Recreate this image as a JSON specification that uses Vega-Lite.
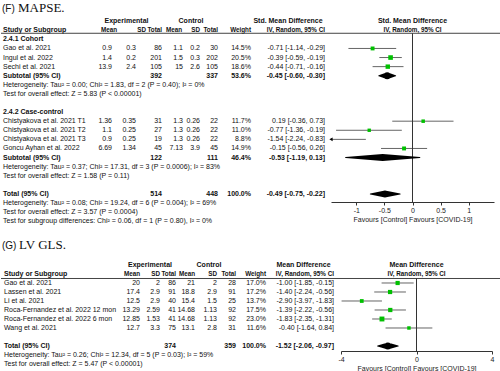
{
"$schema":"https://vega.github.io/schema/vega-lite/v6.json",
"padding":0,
"spacing":0,
"align":"none",
"config":{
 "view":{"stroke":null},
 "text":{"font":"Liberation Sans","fontSize":7,"baseline":"middle","color":"#111"},
 "rule":{"color":"#444","strokeWidth":1},
 "axis":{"grid":false,"tickSize":3,"labelPadding":1,"titlePadding":2,"labelFontSize":7,"titleFontSize":7,"titleFontWeight":"normal","labelFont":"Liberation Sans","titleFont":"Liberation Sans","domainColor":"#333","tickColor":"#333","labelColor":"#222","titleColor":"#222","labelFlush":false,"labelOverlap":false}
},
"datasets":{
"F":[
 {"line":-1,"style":"title","tag":"(F)","study":"MAPSE."},
 {"line":0,"style":"hdr0","esd":"Experimental","csd":"Control","ci":"Std. Mean Difference","fp":"Std. Mean Difference"},
 {"line":1,"style":"hdr","study":"Study or Subgroup","em":"Mean","esd":"SD","en":"Total","cm":"Mean","csd":"SD","cn":"Total","w":"Weight","ci":"IV, Random, 95% CI","fp":"IV, Random, 95% CI"},
 {"line":2,"style":"grp","study":"2.4.1 Cohort"},
 {"line":3,"style":"study","study":"Gao et al. 2021","em":0.9,"esd":0.3,"en":86,"cm":1.1,"csd":0.2,"cn":30,"w":"14.5%","wt":14.5,"ci":"-0.71 [-1.14, -0.29]","est":-0.71,"lo":-1.14,"hi":-0.29},
 {"line":4,"style":"study","study":"Ingul et al. 2022","em":1.4,"esd":0.2,"en":201,"cm":1.5,"csd":0.3,"cn":202,"w":"20.5%","wt":20.5,"ci":"-0.39 [-0.59, -0.19]","est":-0.39,"lo":-0.59,"hi":-0.19},
 {"line":5,"style":"study","study":"Sechi et al. 2021","em":13.9,"esd":2.4,"en":105,"cm":15,"csd":2.6,"cn":105,"w":"18.6%","wt":18.6,"ci":"-0.44 [-0.71, -0.16]","est":-0.44,"lo":-0.71,"hi":-0.16},
 {"line":6,"style":"sub","study":"Subtotal (95% CI)","en":392,"cn":337,"w":"53.6%","ci":"-0.45 [-0.60, -0.30]","est":-0.45,"lo":-0.60,"hi":-0.30},
 {"line":7,"style":"note","study":"Heterogeneity: Tau² = 0.00; Chi² = 1.83, df = 2 (P = 0.40); I² = 0%"},
 {"line":8,"style":"note","study":"Test for overall effect: Z = 5.83 (P < 0.00001)"},
 {"line":10,"style":"grp","study":"2.4.2 Case-control"},
 {"line":11,"style":"study","study":"Chistyakova et al. 2021 T1","em":1.36,"esd":0.35,"en":31,"cm":1.3,"csd":0.26,"cn":22,"w":"11.7%","wt":11.7,"ci":"0.19 [-0.36, 0.73]","est":0.19,"lo":-0.36,"hi":0.73},
 {"line":12,"style":"study","study":"Chistyakova et al. 2021 T2","em":1.1,"esd":0.25,"en":27,"cm":1.3,"csd":0.26,"cn":22,"w":"11.0%","wt":11.0,"ci":"-0.77 [-1.36, -0.19]","est":-0.77,"lo":-1.36,"hi":-0.19},
 {"line":13,"style":"study","study":"Chistyakova et al. 2021 T3","em":0.9,"esd":0.25,"en":19,"cm":1.3,"csd":0.26,"cn":22,"w":"8.8%","wt":8.8,"ci":"-1.54 [-2.24, -0.83]","est":-1.54,"lo":-2.24,"hi":-0.83},
 {"line":14,"style":"study","study":"Goncu Ayhan et al. 2022","em":6.69,"esd":1.34,"en":45,"cm":7.13,"csd":3.9,"cn":45,"w":"14.9%","wt":14.9,"ci":"-0.15 [-0.56, 0.26]","est":-0.15,"lo":-0.56,"hi":0.26},
 {"line":15,"style":"sub","study":"Subtotal (95% CI)","en":122,"cn":111,"w":"46.4%","ci":"-0.53 [-1.19, 0.13]","est":-0.53,"lo":-1.19,"hi":0.13},
 {"line":16,"style":"note","study":"Heterogeneity: Tau² = 0.37; Chi² = 17.31, df = 3 (P = 0.0006); I² = 83%"},
 {"line":17,"style":"note","study":"Test for overall effect: Z = 1.58 (P = 0.11)"},
 {"line":19,"style":"sub","study":"Total (95% CI)","en":514,"cn":448,"w":"100.0%","ci":"-0.49 [-0.75, -0.22]","est":-0.49,"lo":-0.75,"hi":-0.22},
 {"line":20,"style":"note","study":"Heterogeneity: Tau² = 0.08; Chi² = 19.24, df = 6 (P = 0.004); I² = 69%"},
 {"line":21,"style":"note","study":"Test for overall effect: Z = 3.57 (P = 0.0004)"},
 {"line":22,"style":"note","study":"Test for subgroup differences: Chi² = 0.06, df = 1 (P = 0.80), I² = 0%"}
],
"G":[
 {"line":-1.8,"style":"title","tag":"(G)","study":"LV GLS."},
 {"line":0,"style":"hdr0","esd":"Experimental","csd":"Control","ci":"Mean Difference","fp":"Mean Difference"},
 {"line":1,"style":"hdr","study":"Study or Subgroup","em":"Mean","esd":"SD","en":"Total","cm":"Mean","csd":"SD","cn":"Total","w":"Weight","ci":"IV, Random, 95% CI","fp":"IV, Random, 95% CI"},
 {"line":2,"style":"study","study":"Gao et al. 2021","em":20,"esd":2,"en":86,"cm":21,"csd":2,"cn":28,"w":"17.0%","wt":17.0,"ci":"-1.00 [-1.85, -0.15]","est":-1.00,"lo":-1.85,"hi":-0.15},
 {"line":3,"style":"study","study":"Lassen et al. 2021","em":17.4,"esd":2.9,"en":91,"cm":18.8,"csd":2.9,"cn":91,"w":"17.2%","wt":17.2,"ci":"-1.40 [-2.24, -0.56]","est":-1.40,"lo":-2.24,"hi":-0.56},
 {"line":4,"style":"study","study":"Li et al. 2021","em":12.5,"esd":2.9,"en":40,"cm":15.4,"csd":1.5,"cn":25,"w":"13.7%","wt":13.7,"ci":"-2.90 [-3.97, -1.83]","est":-2.90,"lo":-3.97,"hi":-1.83},
 {"line":5,"style":"study","study":"Roca-Fernandez et al. 2022 12 mon","em":13.29,"esd":2.59,"en":41,"cm":14.68,"csd":1.13,"cn":92,"w":"17.5%","wt":17.5,"ci":"-1.39 [-2.22, -0.56]","est":-1.39,"lo":-2.22,"hi":-0.56},
 {"line":6,"style":"study","study":"Roca-Fernandez et al. 2022 6 mon","em":12.85,"esd":1.53,"en":41,"cm":14.68,"csd":1.13,"cn":92,"w":"23.0%","wt":23.0,"ci":"-1.83 [-2.35, -1.31]","est":-1.83,"lo":-2.35,"hi":-1.31},
 {"line":7,"style":"study","study":"Wang et al. 2021","em":12.7,"esd":3.3,"en":75,"cm":13.1,"csd":2.8,"cn":31,"w":"11.6%","wt":11.6,"ci":"-0.40 [-1.64, 0.84]","est":-0.40,"lo":-1.64,"hi":0.84},
 {"line":9,"style":"sub","study":"Total (95% CI)","en":374,"cn":359,"w":"100.0%","ci":"-1.52 [-2.06, -0.97]","est":-1.52,"lo":-2.06,"hi":-0.97},
 {"line":10,"style":"note","study":"Heterogeneity: Tau² = 0.26; Chi² = 12.34, df = 5 (P = 0.03); I² = 59%"},
 {"line":11,"style":"note","study":"Test for overall effect: Z = 5.47 (P < 0.00001)"}
]
},
"vconcat":[
{"data":{"name":"F"},"spacing":0,"bounds":"flush","align":"none","hconcat":[
 {"width":90,"height":230,"encoding":{"y":{"field":"line","type":"quantitative","scale":{"domain":[-2.33,22.97],"reverse":true,"nice":false,"zero":false},"axis":null}},"layer":[
  {"transform":[{"filter":"datum.style=='title'"}],"mark":{"type":"text","align":"left","baseline":"alphabetic","fontSize":10,"dx":1},"encoding":{"x":{"value":0},"text":{"field":"tag","type":"nominal"}}},
  {"transform":[{"filter":"datum.style=='title'"}],"mark":{"type":"text","align":"left","baseline":"alphabetic","font":"Liberation Serif","fontSize":13,"dx":17},"encoding":{"x":{"value":0},"text":{"field":"study","type":"nominal"}}},
  {"transform":[{"filter":"datum.style=='hdr' || datum.style=='grp' || datum.style=='sub'"}],"mark":{"type":"text","align":"left","fontWeight":"bold","dx":2},"encoding":{"x":{"value":0},"text":{"field":"study","type":"nominal"}}},
  {"transform":[{"filter":"datum.style=='study' || datum.style=='note'"}],"mark":{"type":"text","align":"left","dx":2},"encoding":{"x":{"value":0},"text":{"field":"study","type":"nominal"}}},
  {"transform":[{"filter":"datum.style=='hdr'"}],"mark":"rule","encoding":{"y":{"datum":1.33}}}
 ]},
 {"width":26,"height":230,"encoding":{"y":{"field":"line","type":"quantitative","scale":{"domain":[-2.33,22.97],"reverse":true,"nice":false,"zero":false},"axis":null}},"layer":[
  {"transform":[{"filter":"datum.style=='study' && isValid(datum.em)"}],"mark":{"type":"text","align":"right","dx":-5},"encoding":{"x":{"value":"width"},"text":{"field":"em","type":"nominal"}}},
  {"transform":[{"filter":"datum.style=='hdr'"}],"mark":{"type":"text","align":"right","fontWeight":"bold","fontSize":6.3},"encoding":{"x":{"value":"width"},"text":{"field":"em","type":"nominal"}}},
  {"transform":[{"filter":"datum.style=='hdr'"}],"mark":"rule","encoding":{"y":{"datum":1.33}}}
 ]},
 {"width":29,"height":230,"encoding":{"y":{"field":"line","type":"quantitative","scale":{"domain":[-2.33,22.97],"reverse":true,"nice":false,"zero":false},"axis":null}},"layer":[
  {"transform":[{"filter":"datum.style=='study' && isValid(datum.esd)"}],"mark":{"type":"text","align":"right","dx":-10},"encoding":{"x":{"value":"width"},"text":{"field":"esd","type":"nominal"}}},
  {"transform":[{"filter":"datum.style=='hdr'"}],"mark":{"type":"text","align":"right","fontWeight":"bold","fontSize":6.3},"encoding":{"x":{"value":"width"},"text":{"field":"esd","type":"nominal"}}},
  {"transform":[{"filter":"datum.style=='hdr0'"}],"mark":{"type":"text","align":"center","fontWeight":"bold","dx":-5},"encoding":{"text":{"field":"esd","type":"nominal"}}},
  {"transform":[{"filter":"datum.style=='hdr'"}],"mark":"rule","encoding":{"y":{"datum":1.33}}}
 ]},
 {"width":16,"height":230,"encoding":{"y":{"field":"line","type":"quantitative","scale":{"domain":[-2.33,22.97],"reverse":true,"nice":false,"zero":false},"axis":null}},"layer":[
  {"transform":[{"filter":"datum.style=='study' && isValid(datum.en)"}],"mark":{"type":"text","align":"right"},"encoding":{"x":{"value":"width"},"text":{"field":"en","type":"nominal"}}},
  {"transform":[{"filter":"datum.style=='sub' && isValid(datum.en)"}],"mark":{"type":"text","align":"right","fontWeight":"bold"},"encoding":{"x":{"value":"width"},"text":{"field":"en","type":"nominal"}}},
  {"transform":[{"filter":"datum.style=='hdr'"}],"mark":{"type":"text","align":"right","fontWeight":"bold","fontSize":6.3},"encoding":{"x":{"value":"width"},"text":{"field":"en","type":"nominal"}}},
  {"transform":[{"filter":"datum.style=='hdr'"}],"mark":"rule","encoding":{"y":{"datum":1.33}}}
 ]},
 {"width":20,"height":230,"encoding":{"y":{"field":"line","type":"quantitative","scale":{"domain":[-2.33,22.97],"reverse":true,"nice":false,"zero":false},"axis":null}},"layer":[
  {"transform":[{"filter":"datum.style=='study' && isValid(datum.cm)"}],"mark":{"type":"text","align":"right","dx":1},"encoding":{"x":{"value":"width"},"text":{"field":"cm","type":"nominal"}}},
  {"transform":[{"filter":"datum.style=='hdr'"}],"mark":{"type":"text","align":"right","fontWeight":"bold","fontSize":6.3},"encoding":{"x":{"value":"width"},"text":{"field":"cm","type":"nominal"}}},
  {"transform":[{"filter":"datum.style=='hdr'"}],"mark":"rule","encoding":{"y":{"datum":1.33}}}
 ]},
 {"width":18,"height":230,"encoding":{"y":{"field":"line","type":"quantitative","scale":{"domain":[-2.33,22.97],"reverse":true,"nice":false,"zero":false},"axis":null}},"layer":[
  {"transform":[{"filter":"datum.style=='study' && isValid(datum.csd)"}],"mark":{"type":"text","align":"right"},"encoding":{"x":{"value":"width"},"text":{"field":"csd","type":"nominal"}}},
  {"transform":[{"filter":"datum.style=='hdr'"}],"mark":{"type":"text","align":"right","fontWeight":"bold","fontSize":6.3},"encoding":{"x":{"value":"width"},"text":{"field":"csd","type":"nominal"}}},
  {"transform":[{"filter":"datum.style=='hdr0'"}],"mark":{"type":"text","align":"center","fontWeight":"bold"},"encoding":{"text":{"field":"csd","type":"nominal"}}},
  {"transform":[{"filter":"datum.style=='hdr'"}],"mark":"rule","encoding":{"y":{"datum":1.33}}}
 ]},
 {"width":18,"height":230,"encoding":{"y":{"field":"line","type":"quantitative","scale":{"domain":[-2.33,22.97],"reverse":true,"nice":false,"zero":false},"axis":null}},"layer":[
  {"transform":[{"filter":"datum.style=='study' && isValid(datum.cn)"}],"mark":{"type":"text","align":"right"},"encoding":{"x":{"value":"width"},"text":{"field":"cn","type":"nominal"}}},
  {"transform":[{"filter":"datum.style=='sub' && isValid(datum.cn)"}],"mark":{"type":"text","align":"right","fontWeight":"bold"},"encoding":{"x":{"value":"width"},"text":{"field":"cn","type":"nominal"}}},
  {"transform":[{"filter":"datum.style=='hdr'"}],"mark":{"type":"text","align":"right","fontWeight":"bold","fontSize":6.3},"encoding":{"x":{"value":"width"},"text":{"field":"cn","type":"nominal"}}},
  {"transform":[{"filter":"datum.style=='hdr'"}],"mark":"rule","encoding":{"y":{"datum":1.33}}}
 ]},
 {"width":33,"height":230,"encoding":{"y":{"field":"line","type":"quantitative","scale":{"domain":[-2.33,22.97],"reverse":true,"nice":false,"zero":false},"axis":null}},"layer":[
  {"transform":[{"filter":"datum.style=='study' && isValid(datum.w)"}],"mark":{"type":"text","align":"right"},"encoding":{"x":{"value":"width"},"text":{"field":"w","type":"nominal"}}},
  {"transform":[{"filter":"datum.style=='sub' && isValid(datum.w)"}],"mark":{"type":"text","align":"right","fontWeight":"bold"},"encoding":{"x":{"value":"width"},"text":{"field":"w","type":"nominal"}}},
  {"transform":[{"filter":"datum.style=='hdr'"}],"mark":{"type":"text","align":"right","fontWeight":"bold","fontSize":6.3},"encoding":{"x":{"value":"width"},"text":{"field":"w","type":"nominal"}}},
  {"transform":[{"filter":"datum.style=='hdr'"}],"mark":"rule","encoding":{"y":{"datum":1.33}}}
 ]},
 {"width":80,"height":230,"encoding":{"y":{"field":"line","type":"quantitative","scale":{"domain":[-2.33,22.97],"reverse":true,"nice":false,"zero":false},"axis":null}},"layer":[
  {"transform":[{"filter":"datum.style=='study' && isValid(datum.ci)"}],"mark":{"type":"text","align":"right","dx":-6},"encoding":{"x":{"value":"width"},"text":{"field":"ci","type":"nominal"}}},
  {"transform":[{"filter":"datum.style=='sub' && isValid(datum.ci)"}],"mark":{"type":"text","align":"right","dx":-6,"fontWeight":"bold"},"encoding":{"x":{"value":"width"},"text":{"field":"ci","type":"nominal"}}},
  {"transform":[{"filter":"datum.style=='hdr'"}],"mark":{"type":"text","align":"right","dx":-6,"fontWeight":"bold","fontSize":6.3},"encoding":{"x":{"value":"width"},"text":{"field":"ci","type":"nominal"}}},
  {"transform":[{"filter":"datum.style=='hdr0'"}],"mark":{"type":"text","align":"center","fontWeight":"bold","dx":-3},"encoding":{"text":{"field":"ci","type":"nominal"}}},
  {"transform":[{"filter":"datum.style=='hdr'"}],"mark":"rule","encoding":{"y":{"datum":1.33}}}
 ]},
 {"width":163,"height":202,"encoding":{"y":{"field":"line","type":"quantitative","scale":{"domain":[-2.33,19.89],"reverse":true,"nice":false,"zero":false},"axis":null}},"layer":[
  {"transform":[{"filter":"datum.style=='study'"}],"mark":{"type":"rule","color":"#666"},"encoding":{"x":{"field":"lo","type":"quantitative","scale":{"domain":[-1.45,1.45],"clamp":true,"nice":false,"zero":false},"axis":{"values":[-1,-0.5,0,0.5,1],"labelExpr":"'' + datum.value"},"title":"Favours [Control]   Favours [COVID-19]"},"x2":{"field":"hi"}}},
  {"transform":[{"filter":"datum.style=='hdr0'"}],"mark":{"type":"text","align":"center","fontWeight":"bold"},"encoding":{"x":{"datum":0,"title":"Favours [Control]   Favours [COVID-19]"},"text":{"field":"fp","type":"nominal"}}},
  {"transform":[{"filter":"datum.style=='hdr'"}],"mark":{"type":"text","align":"center","fontWeight":"bold","fontSize":6.3},"encoding":{"x":{"datum":0,"title":"Favours [Control]   Favours [COVID-19]"},"text":{"field":"fp","type":"nominal"}}},
  {"transform":[{"filter":"datum.style=='hdr'"}],"mark":"rule","encoding":{"y":{"datum":1.33}}},
  {"transform":[{"filter":"datum.style=='hdr'"}],"mark":{"type":"rule","color":"#333"},"encoding":{"x":{"datum":0,"title":"Favours [Control]   Favours [COVID-19]"},"y":{"datum":1.33},"y2":{"value":"height"}}},
  {"transform":[{"filter":"datum.style=='study' && datum.lo < -1.45"}],"mark":{"type":"point","shape":"triangle-left","filled":true,"color":"#000","opacity":1,"size":14},"encoding":{"x":{"field":"lo","type":"quantitative","title":"Favours [Control]   Favours [COVID-19]"}}},
  {"transform":[{"filter":"datum.style=='study' && datum.est > -1.45"}],"mark":{"type":"point","shape":"square","filled":true,"color":"#00c000","opacity":1},"encoding":{"x":{"field":"est","type":"quantitative","title":"Favours [Control]   Favours [COVID-19]"},"size":{"field":"wt","type":"quantitative","scale":{"domain":[0,25],"range":[0,26]},"legend":null}}},
  {"transform":[{"filter":"datum.style=='sub'"},{"fold":["lo","est","hi"],"as":["key","xv"]}],"mark":{"type":"trail","color":"#000","opacity":1},"encoding":{"x":{"field":"xv","type":"quantitative","title":"Favours [Control]   Favours [COVID-19]"},"detail":{"field":"line","type":"nominal"},"order":{"field":"xv","type":"quantitative"},"size":{"condition":{"test":"datum.key=='est'","value":7},"value":0}}}
 ]},
 {"width":7,"height":230,"encoding":{"y":{"field":"line","type":"quantitative","scale":{"domain":[-2.33,22.97],"reverse":true,"nice":false,"zero":false},"axis":null}},"layer":[
  {"transform":[{"filter":"datum.style=='hdr'"}],"mark":"rule","encoding":{"y":{"datum":1.33}}}
 ]}
]},
{"data":{"name":"G"},"spacing":0,"bounds":"flush","align":"none","hconcat":[
 {"width":114,"height":141,"encoding":{"y":{"field":"line","type":"quantitative","scale":{"domain":[-3.889,11.778],"reverse":true,"nice":false,"zero":false},"axis":null}},"layer":[
  {"transform":[{"filter":"datum.style=='title'"}],"mark":{"type":"text","align":"left","baseline":"alphabetic","fontSize":10,"dx":1},"encoding":{"x":{"value":0},"text":{"field":"tag","type":"nominal"}}},
  {"transform":[{"filter":"datum.style=='title'"}],"mark":{"type":"text","align":"left","baseline":"alphabetic","font":"Liberation Serif","fontSize":13,"dx":18},"encoding":{"x":{"value":0},"text":{"field":"study","type":"nominal"}}},
  {"transform":[{"filter":"datum.style=='hdr' || datum.style=='grp' || datum.style=='sub'"}],"mark":{"type":"text","align":"left","fontWeight":"bold","dx":3},"encoding":{"x":{"value":0},"text":{"field":"study","type":"nominal"}}},
  {"transform":[{"filter":"datum.style=='study' || datum.style=='note'"}],"mark":{"type":"text","align":"left","dx":3},"encoding":{"x":{"value":0},"text":{"field":"study","type":"nominal"}}},
  {"transform":[{"filter":"datum.style=='hdr'"}],"mark":"rule","encoding":{"y":{"datum":1.5}}}
 ]},
 {"width":25,"height":141,"encoding":{"y":{"field":"line","type":"quantitative","scale":{"domain":[-3.889,11.778],"reverse":true,"nice":false,"zero":false},"axis":null}},"layer":[
  {"transform":[{"filter":"datum.style=='study' && isValid(datum.em)"}],"mark":{"type":"text","align":"right"},"encoding":{"x":{"value":"width"},"text":{"field":"em","type":"nominal"}}},
  {"transform":[{"filter":"datum.style=='hdr'"}],"mark":{"type":"text","align":"right","fontWeight":"bold","fontSize":6.3},"encoding":{"x":{"value":"width"},"text":{"field":"em","type":"nominal"}}},
  {"transform":[{"filter":"datum.style=='hdr'"}],"mark":"rule","encoding":{"y":{"datum":1.5}}}
 ]},
 {"width":20,"height":141,"encoding":{"y":{"field":"line","type":"quantitative","scale":{"domain":[-3.889,11.778],"reverse":true,"nice":false,"zero":false},"axis":null}},"layer":[
  {"transform":[{"filter":"datum.style=='study' && isValid(datum.esd)"}],"mark":{"type":"text","align":"right"},"encoding":{"x":{"value":"width"},"text":{"field":"esd","type":"nominal"}}},
  {"transform":[{"filter":"datum.style=='hdr'"}],"mark":{"type":"text","align":"right","fontWeight":"bold","fontSize":6.3},"encoding":{"x":{"value":"width"},"text":{"field":"esd","type":"nominal"}}},
  {"transform":[{"filter":"datum.style=='hdr0'"}],"mark":{"type":"text","align":"center","fontWeight":"bold"},"encoding":{"text":{"field":"esd","type":"nominal"}}},
  {"transform":[{"filter":"datum.style=='hdr'"}],"mark":"rule","encoding":{"y":{"datum":1.5}}}
 ]},
 {"width":16,"height":141,"encoding":{"y":{"field":"line","type":"quantitative","scale":{"domain":[-3.889,11.778],"reverse":true,"nice":false,"zero":false},"axis":null}},"layer":[
  {"transform":[{"filter":"datum.style=='study' && isValid(datum.en)"}],"mark":{"type":"text","align":"right"},"encoding":{"x":{"value":"width"},"text":{"field":"en","type":"nominal"}}},
  {"transform":[{"filter":"datum.style=='sub' && isValid(datum.en)"}],"mark":{"type":"text","align":"right","fontWeight":"bold"},"encoding":{"x":{"value":"width"},"text":{"field":"en","type":"nominal"}}},
  {"transform":[{"filter":"datum.style=='hdr'"}],"mark":{"type":"text","align":"right","fontWeight":"bold","fontSize":6.3},"encoding":{"x":{"value":"width"},"text":{"field":"en","type":"nominal"}}},
  {"transform":[{"filter":"datum.style=='hdr'"}],"mark":"rule","encoding":{"y":{"datum":1.5}}}
 ]},
 {"width":19,"height":141,"encoding":{"y":{"field":"line","type":"quantitative","scale":{"domain":[-3.889,11.778],"reverse":true,"nice":false,"zero":false},"axis":null}},"layer":[
  {"transform":[{"filter":"datum.style=='study' && isValid(datum.cm)"}],"mark":{"type":"text","align":"right"},"encoding":{"x":{"value":"width"},"text":{"field":"cm","type":"nominal"}}},
  {"transform":[{"filter":"datum.style=='hdr'"}],"mark":{"type":"text","align":"right","fontWeight":"bold","fontSize":6.3},"encoding":{"x":{"value":"width"},"text":{"field":"cm","type":"nominal"}}},
  {"transform":[{"filter":"datum.style=='hdr'"}],"mark":"rule","encoding":{"y":{"datum":1.5}}}
 ]},
 {"width":22,"height":141,"encoding":{"y":{"field":"line","type":"quantitative","scale":{"domain":[-3.889,11.778],"reverse":true,"nice":false,"zero":false},"axis":null}},"layer":[
  {"transform":[{"filter":"datum.style=='study' && isValid(datum.csd)"}],"mark":{"type":"text","align":"right"},"encoding":{"x":{"value":"width"},"text":{"field":"csd","type":"nominal"}}},
  {"transform":[{"filter":"datum.style=='hdr'"}],"mark":{"type":"text","align":"right","fontWeight":"bold","fontSize":6.3},"encoding":{"x":{"value":"width"},"text":{"field":"csd","type":"nominal"}}},
  {"transform":[{"filter":"datum.style=='hdr0'"}],"mark":{"type":"text","align":"center","fontWeight":"bold","dx":3},"encoding":{"text":{"field":"csd","type":"nominal"}}},
  {"transform":[{"filter":"datum.style=='hdr'"}],"mark":"rule","encoding":{"y":{"datum":1.5}}}
 ]},
 {"width":19,"height":141,"encoding":{"y":{"field":"line","type":"quantitative","scale":{"domain":[-3.889,11.778],"reverse":true,"nice":false,"zero":false},"axis":null}},"layer":[
  {"transform":[{"filter":"datum.style=='study' && isValid(datum.cn)"}],"mark":{"type":"text","align":"right"},"encoding":{"x":{"value":"width"},"text":{"field":"cn","type":"nominal"}}},
  {"transform":[{"filter":"datum.style=='sub' && isValid(datum.cn)"}],"mark":{"type":"text","align":"right","fontWeight":"bold"},"encoding":{"x":{"value":"width"},"text":{"field":"cn","type":"nominal"}}},
  {"transform":[{"filter":"datum.style=='hdr'"}],"mark":{"type":"text","align":"right","fontWeight":"bold","fontSize":6.3},"encoding":{"x":{"value":"width"},"text":{"field":"cn","type":"nominal"}}},
  {"transform":[{"filter":"datum.style=='hdr'"}],"mark":"rule","encoding":{"y":{"datum":1.5}}}
 ]},
 {"width":30,"height":141,"encoding":{"y":{"field":"line","type":"quantitative","scale":{"domain":[-3.889,11.778],"reverse":true,"nice":false,"zero":false},"axis":null}},"layer":[
  {"transform":[{"filter":"datum.style=='study' && isValid(datum.w)"}],"mark":{"type":"text","align":"right"},"encoding":{"x":{"value":"width"},"text":{"field":"w","type":"nominal"}}},
  {"transform":[{"filter":"datum.style=='sub' && isValid(datum.w)"}],"mark":{"type":"text","align":"right","fontWeight":"bold"},"encoding":{"x":{"value":"width"},"text":{"field":"w","type":"nominal"}}},
  {"transform":[{"filter":"datum.style=='hdr'"}],"mark":{"type":"text","align":"right","fontWeight":"bold","fontSize":6.3},"encoding":{"x":{"value":"width"},"text":{"field":"w","type":"nominal"}}},
  {"transform":[{"filter":"datum.style=='hdr'"}],"mark":"rule","encoding":{"y":{"datum":1.5}}}
 ]},
 {"width":75,"height":141,"encoding":{"y":{"field":"line","type":"quantitative","scale":{"domain":[-3.889,11.778],"reverse":true,"nice":false,"zero":false},"axis":null}},"layer":[
  {"transform":[{"filter":"datum.style=='study' && isValid(datum.ci)"}],"mark":{"type":"text","align":"right","dx":-7},"encoding":{"x":{"value":"width"},"text":{"field":"ci","type":"nominal"}}},
  {"transform":[{"filter":"datum.style=='sub' && isValid(datum.ci)"}],"mark":{"type":"text","align":"right","dx":-7,"fontWeight":"bold"},"encoding":{"x":{"value":"width"},"text":{"field":"ci","type":"nominal"}}},
  {"transform":[{"filter":"datum.style=='hdr'"}],"mark":{"type":"text","align":"right","dx":-7,"fontWeight":"bold","fontSize":6.3},"encoding":{"x":{"value":"width"},"text":{"field":"ci","type":"nominal"}}},
  {"transform":[{"filter":"datum.style=='hdr0'"}],"mark":{"type":"text","align":"center","fontWeight":"bold"},"encoding":{"text":{"field":"ci","type":"nominal"}}},
  {"transform":[{"filter":"datum.style=='hdr'"}],"mark":"rule","encoding":{"y":{"datum":1.5}}}
 ]},
 {"width":151,"height":121,"encoding":{"y":{"field":"line","type":"quantitative","scale":{"domain":[-3.889,9.556],"reverse":true,"nice":false,"zero":false},"axis":null}},"layer":[
  {"transform":[{"filter":"datum.style=='study'"}],"mark":{"type":"rule","color":"#666"},"encoding":{"x":{"field":"lo","type":"quantitative","scale":{"domain":[-4,4],"nice":false,"zero":false},"axis":{"values":[-4,-2,0,2,4],"labelExpr":"'' + datum.value"},"title":"Favours [Control]   Favours [COVID-19]"},"x2":{"field":"hi"}}},
  {"transform":[{"filter":"datum.style=='hdr0'"}],"mark":{"type":"text","align":"center","fontWeight":"bold"},"encoding":{"x":{"datum":0,"title":"Favours [Control]   Favours [COVID-19]"},"text":{"field":"fp","type":"nominal"}}},
  {"transform":[{"filter":"datum.style=='hdr'"}],"mark":{"type":"text","align":"center","fontWeight":"bold","fontSize":6.3},"encoding":{"x":{"datum":0,"title":"Favours [Control]   Favours [COVID-19]"},"text":{"field":"fp","type":"nominal"}}},
  {"transform":[{"filter":"datum.style=='hdr'"}],"mark":"rule","encoding":{"y":{"datum":1.5}}},
  {"transform":[{"filter":"datum.style=='hdr'"}],"mark":{"type":"rule","color":"#333"},"encoding":{"x":{"datum":0,"title":"Favours [Control]   Favours [COVID-19]"},"y":{"datum":1.5},"y2":{"value":"height"}}},
  {"transform":[{"filter":"datum.style=='study'"}],"mark":{"type":"point","shape":"square","filled":true,"color":"#00c000","opacity":1},"encoding":{"x":{"field":"est","type":"quantitative","title":"Favours [Control]   Favours [COVID-19]"},"size":{"field":"wt","type":"quantitative","scale":{"domain":[0,25],"range":[0,26]},"legend":null}}},
  {"transform":[{"filter":"datum.style=='sub'"},{"fold":["lo","est","hi"],"as":["key","xv"]}],"mark":{"type":"trail","color":"#000","opacity":1},"encoding":{"x":{"field":"xv","type":"quantitative","title":"Favours [Control]   Favours [COVID-19]"},"detail":{"field":"line","type":"nominal"},"order":{"field":"xv","type":"quantitative"},"size":{"condition":{"test":"datum.key=='est'","value":7},"value":0}}}
 ]},
 {"width":9,"height":141,"encoding":{"y":{"field":"line","type":"quantitative","scale":{"domain":[-3.889,11.778],"reverse":true,"nice":false,"zero":false},"axis":null}},"layer":[
  {"transform":[{"filter":"datum.style=='hdr'"}],"mark":"rule","encoding":{"y":{"datum":1.5}}}
 ]}
]}
]
}
